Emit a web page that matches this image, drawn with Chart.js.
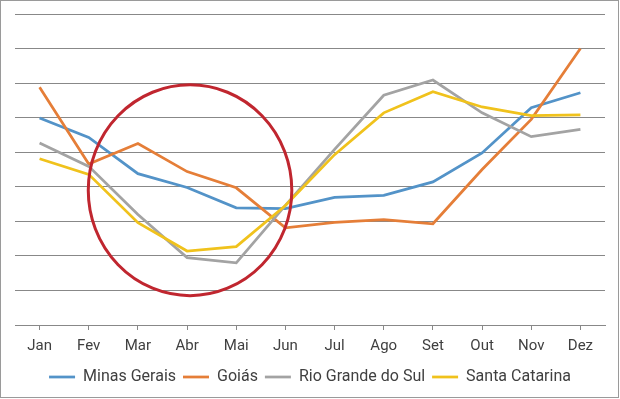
<!DOCTYPE html>
<html>
<head>
<meta charset="utf-8">
<script src="https://cdn.jsdelivr.net/npm/chart.js@4.4.1/dist/chart.umd.min.js"></script>
<style>
  html, body { margin: 0; padding: 0; background: #fff; }
  #wrap { width: 620px; height: 399px; }
</style>
</head>
<body>
<div id="wrap"><canvas id="line-chart"></canvas></div>
<script>
const months = ['Jan','Fev','Mar','Abr','Mai','Jun','Jul','Ago','Set','Out','Nov','Dez'];
const minasGerais = [5.99, 5.43, 4.38, 3.98, 3.39, 3.37, 3.69, 3.75, 4.14, 4.98, 6.29, 6.72];
const goias       = [6.88, 4.66, 5.25, 4.44, 3.97, 2.81, 2.97, 3.05, 2.93, 4.50, 5.95, 8.00];
const rioGrande   = [5.27, 4.59, 3.20, 1.95, 1.80, 3.46, 5.08, 6.65, 7.09, 6.14, 5.45, 5.66];
const santaCat    = [4.81, 4.36, 2.96, 2.14, 2.27, 3.46, 4.93, 6.14, 6.75, 6.31, 6.06, 6.08];

// red circle drawn around Mar-Mai, in axis units
const ring = { cx: 3.06, cy: 3.9, rx: 2.07, ry: 3.05 };

const ringPlugin = {
    id: 'ring',
    afterDatasetsDraw(chart) {
        const xs = chart.scales.x, ys = chart.scales.y;
        const cx = xs.getPixelForValue(ring.cx);
        const cy = ys.getPixelForValue(ring.cy);
        const rx = xs.getPixelForValue(ring.cx + ring.rx) - cx;
        const ry = cy - ys.getPixelForValue(ring.cy + ring.ry);
        const ctx = chart.ctx;
        ctx.save();
        ctx.beginPath();
        ctx.ellipse(cx, cy, rx, ry, 0, 0, Math.PI * 2);
        ctx.strokeStyle = '#c0262f';
        ctx.lineWidth = 3;
        ctx.stroke();
        ctx.restore();
    },
    afterDraw(chart) {
        const ctx = chart.ctx;
        ctx.save();
        ctx.strokeStyle = '#9a9a9a';
        ctx.lineWidth = 1;
        ctx.strokeRect(0.5, 0.5, chart.width - 2, chart.height - 2);
        ctx.restore();
    }
};

function series(label, data, color, order) {
    return {
        label: label,
        data: data,
        borderColor: color,
        backgroundColor: color,
        borderWidth: 2.75,
        pointRadius: 0,
        tension: 0,
        order: order
    };
}

const ctx = document.getElementById('line-chart').getContext('2d');
window.myLine = new Chart(ctx, {
    type: 'line',
    data: {
        labels: months,
        datasets: [
            series('Minas Gerais', minasGerais, '#5393c8', 3),
            series('Goiás', goias, '#e57e38', 2),
            series('Rio Grande do Sul', rioGrande, '#a3a3a3', 1),
            series('Santa Catarina', santaCat, '#f0c21c', 0)
        ]
    },
    plugins: [ringPlugin],
    options: {
        responsive: true,
        maintainAspectRatio: false,
        animation: false,
        layout: { padding: { top: 14, left: 15, right: 15, bottom: 4 } },
        plugins: {
            tooltip: { enabled: false },
            legend: {
                position: 'bottom',
                labels: {
                    usePointStyle: true,
                    pointStyle: 'line',
                    pointStyleWidth: 26,
                    color: '#404040',
                    font: { family: 'Roboto', size: 16 },
                    padding: 7,
                    sort: (a, b) => a.datasetIndex - b.datasetIndex
                }
            }
        },
        scales: {
            x: {
                offset: true,
                ticks: {
                    color: '#404040',
                    font: { family: 'Roboto', size: 15 },
                    padding: 7,
                    maxRotation: 0
                },
                grid: {
                    drawOnChartArea: false,
                    tickLength: 5,
                    color: '#888888'
                },
                border: { color: '#888888' }
            },
            y: {
                min: 0,
                max: 9,
                ticks: { stepSize: 1, display: false },
                grid: { color: '#888888', drawTicks: false },
                border: { display: false }
            }
        }
    }
});
</script>
</body>
</html>
